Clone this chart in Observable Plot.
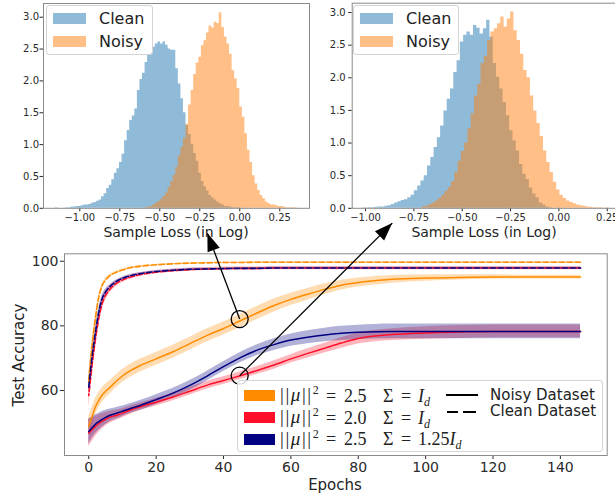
<!DOCTYPE html>
<html>
<head>
<meta charset="utf-8">
<script src="https://cdn.jsdelivr.net/npm/d3@7"></script>
<script src="https://cdn.jsdelivr.net/npm/@observablehq/plot@0.6"></script>
<style>
  body { margin: 0; background: #fff; }
  #root { position: relative; width: 615px; height: 496px; overflow: hidden; background: #fff; font-family: "DejaVu Sans", sans-serif; color: #222; }
  #root svg { position: absolute; z-index: 1; }
  .leg { position: absolute; z-index: 2; border: 1px solid #d4d4d4; border-radius: 3px; background: rgba(255,255,255,0.85); box-sizing: border-box; }
  .leg .patch { position: absolute; }
  .leg .t { position: absolute; white-space: nowrap; }
  .hl .t { font-size: 16px; line-height: 16px; }
  .math { position: absolute; font-family: "Liberation Serif", "DejaVu Serif", serif; font-size: 18px; line-height: 18px; white-space: nowrap; }
  .math.norm { letter-spacing: 1.6px; font-size: 19px; }
  .math sup { font-size: 12px; vertical-align: 7px; line-height: 0; letter-spacing: 0; }
  .math sub { font-size: 12px; vertical-align: -4px; line-height: 0; font-style: italic; }
  .axt { position: absolute; z-index: 2; white-space: nowrap; transform: translate(-50%, -50%); font-size: 14px; line-height: 14px; }
  .ds { font-size: 15px; line-height: 15px; }
</style>
</head>
<body>
<div id="root"></div>
<script>
// ---------- Histogram data (density per bin) ----------
const leftBinWidth = 0.016;
const leftCleanStart = -1.152;
const leftClean = [0.01,0,0,0,0.01,0.01,0.02,0.02,0.03,0.03,
  0.04,0.05,0.05,0.06,0.08,0.09,0.11,0.13,0.18,0.23,
  0.31,0.36,0.45,0.55,0.62,0.72,0.85,1.06,1.22,1.38,
  1.45,1.56,1.85,2.02,2.12,2.29,2.40,2.45,2.53,2.58,
  2.61,2.58,2.61,2.56,2.50,2.48,2.48,2.19,1.95,1.72,
  1.50,1.30,1.16,1.00,0.86,0.74,0.55,0.42,0.34,0.27,
  0.20,0.16,0.13,0.10,0.07,0.05,0.03,0.03,0.02,0.01,
  0.01,0.01];
const leftNoisyStart = -0.592;
const leftNoisy = [0.01,0.02,0.03,0.05,0.08,0.11,0.14,0.19,0.24,0.33,
  0.42,0.52,0.64,0.82,0.96,1.10,1.32,1.62,1.85,2.10,
  2.28,2.37,2.55,2.63,2.75,2.86,2.83,2.92,2.90,3.07,
  2.84,2.69,2.58,2.42,2.16,2.03,1.88,1.59,1.43,1.17,
  0.91,0.72,0.51,0.38,0.28,0.20,0.15,0.10,0.07,0.05,
  0.05,0.04,0.03,0.03,0.02,0.01,0.01,0.01,0.01,0.005];

const rightBinWidth = 0.017;
const rightCleanStart = -1.0195;
const rightClean = [0.005,0.005,0.01,0.01,0.015,0.02,0.02,0.03,0.04,0.06,
  0.08,0.10,0.12,0.13,0.16,0.20,0.27,0.34,0.42,0.50,
  0.65,0.78,0.93,1.08,1.26,1.49,1.67,1.83,2.08,2.26,
  2.55,2.65,2.70,2.65,2.80,2.76,2.67,2.75,2.88,2.62,
  2.22,2.01,1.83,1.62,1.42,1.19,1.03,0.88,0.67,0.52,
  0.44,0.31,0.22,0.16,0.08,0.05,0.02,0.01];
const rightNoisyStart = -0.7085;
const rightNoisy = [0.02,0.03,0.05,0.08,0.11,0.15,0.20,0.26,0.32,0.41,
  0.55,0.72,0.87,1.00,1.22,1.45,1.72,1.90,2.22,2.33,
  2.57,2.70,2.75,2.83,2.93,2.78,2.90,3.01,2.72,2.57,
  2.36,2.11,2.00,1.72,1.49,1.30,1.10,0.88,0.70,0.55,
  0.40,0.28,0.20,0.15,0.11,0.09,0.07,0.05,0.04,0.03,
  0.02,0.015,0.01,0.01,0.01,0.005,0.005];

const histXTicks = [-1, -0.75, -0.5, -0.25, 0, 0.25];
const histYTicks = [0, 0.5, 1, 1.5, 2, 2.5, 3];
const histLabels = ["Clean", "Noisy"];
const histXLabel = "Sample Loss (in Log)";

// ---------- Training curves ----------
const epochs = [0,1,2,3,4,5,6,8,10,12,15,20,25,30,35,40,45,50,55,60,65,70,75,80,90,100,110,120,130,140,146];

const noisyOrange = [49,52,55,57,58.6,59.8,60.7,62.7,64.5,65.9,67.6,69.8,72,74.5,77,79.2,81.6,84,86.3,88.2,89.8,91.3,92.6,93.4,94.4,94.8,95.0,95.1,95.1,95.1,95.1];
const noisyOrangeSd = [3,2.8,2.6,2.4,2.3,2.2,2.1,2,2,2,2,2,2,2,2,2,2,2,2,1.9,1.8,1.7,1.5,1.4,1.2,1,0.8,0.7,0.6,0.6,0.6];
const noisyRed = [46.8,47.9,48.9,49.8,50.5,51.1,51.6,52.3,53.0,53.8,54.9,56.4,58.0,59.8,61.6,63.1,64.6,66.2,67.9,69.8,71.5,73.1,74.7,76.1,77.3,77.8,78.1,78.3,78.3,78.3,78.3];
const noisyRedSd = [4.2,3.6,3.1,2.7,2.4,2.1,1.9,1.6,1.4,1.3,1.2,1.2,1.2,1.2,1.2,1.2,1.2,1.2,1.3,1.3,1.4,1.5,1.6,1.7,1.8,1.9,2,2,2,2,2];
const noisyNavy = [47.3,48.5,49.6,50.4,51.1,51.7,52.2,52.9,53.6,54.3,55.3,57.2,59.2,61.6,64.4,67.4,70.2,72.5,74.2,75.6,76.5,77.2,77.7,78.0,78.3,78.3,78.3,78.3,78.3,78.3,78.3];
const noisyNavySd = [3.9,3.3,2.9,2.6,2.4,2.2,2,1.8,1.6,1.5,1.5,1.5,1.5,1.5,1.5,1.5,1.6,1.7,1.8,1.9,2,2.1,2.2,2.2,2.3,2.3,2.3,2.3,2.3,2.3,2.3];

const cleanOrange = [63,74,82.5,89,92.5,94.2,95.3,96.5,97.3,97.9,98.4,98.9,99.2,99.4,99.5,99.6,99.6,99.7,99.7,99.7,99.7,99.7,99.7,99.7,99.7,99.7,99.7,99.7,99.7,99.7,99.7];
const cleanOrangeSd = [2.5,2,1.5,1.1,0.8,0.6,0.5,0.4,0.3,0.3,0.3,0.2,0.2,0.2,0.2,0.2,0.2,0.2,0.2,0.2,0.2,0.2,0.2,0.2,0.2,0.2,0.2,0.2,0.2,0.2,0.2];
const cleanRed = [58.5,68,76,82.5,87,89.5,91,93,94.2,95,95.8,96.6,97.1,97.4,97.6,97.7,97.8,97.8,97.9,97.9,97.9,97.9,97.9,97.9,97.9,97.9,97.9,97.9,97.9,97.9,97.9];
const cleanRedSd = [4,3.5,3,2.5,2,1.6,1.3,1,0.8,0.7,0.6,0.5,0.5,0.5,0.5,0.5,0.5,0.5,0.5,0.5,0.5,0.5,0.5,0.5,0.5,0.5,0.5,0.5,0.5,0.5,0.5];
const cleanNavy = [61,70.5,78,84.3,88.5,90.5,91.8,93.6,94.7,95.4,96.1,96.8,97.2,97.5,97.6,97.7,97.8,97.8,97.9,97.9,97.9,97.9,97.9,97.9,97.9,97.9,97.9,97.9,97.9,97.9,97.9];
const cleanNavySd = [3,2.5,2,1.5,1.1,0.9,0.7,0.5,0.4,0.4,0.3,0.3,0.3,0.3,0.3,0.3,0.3,0.3,0.3,0.3,0.3,0.3,0.3,0.3,0.3,0.3,0.3,0.3,0.3,0.3,0.3];

const xTicks = [0, 20, 40, 60, 80, 100, 120, 140];
const yTicks = [60, 80, 100];
const xLabel = "Epochs";
const yLabel = "Test Accuracy";
const styleNames = ["Noisy Dataset", "Clean Dataset"];

// annotation arrows: circle position (epoch, accuracy) -> arrow tip
const annoFromX = [44.8, 44.8];
const annoFromY = [82.1, 64.6];
const annoToX = [35.2, 90.1];
const annoToY = [108.7, 111.8];

// ---------- colours ----------
const cBlue = "#1f77b4", cOrange = "#ff7f0e";
const cOr = "#ff8c00", cRed = "#ff1028", cNavy = "#000080";

// ---------- build ----------
const root = document.getElementById("root");

function histSteps(start, w, vals) {
  const pts = vals.map((v, i) => ({x: start + i * w, y: v}));
  pts.push({x: start + vals.length * w, y: vals[vals.length - 1]});
  return pts;
}

function histPlot(opts) {
  return Plot.plot({
    width: opts.width, height: 245,
    marginLeft: opts.ml, marginRight: opts.mr, marginTop: opts.mt, marginBottom: 245 - 207.8,
    x: {domain: opts.xd, ticks: histXTicks, tickFormat: d3.format(".2f"), label: null, tickSize: 3.5, tickPadding: 2},
    y: {domain: opts.yd, ticks: histYTicks, tickFormat: d3.format(".1f"), label: null, tickSize: 3.5, tickPadding: opts.yp},
    style: {background: "transparent", fontFamily: "DejaVu Sans", fontSize: "10px", color: "#2a2a2a", overflow: "visible"},
    marks: [
      Plot.areaY(histSteps(opts.cs, opts.w, opts.clean), {x: "x", y: "y", curve: "step-after", fill: cBlue, fillOpacity: 0.5}),
      Plot.areaY(histSteps(opts.ns, opts.w, opts.noisy), {x: "x", y: "y", curve: "step-after", fill: cOrange, fillOpacity: 0.5}),
      Plot.frame({stroke: "#8a8a8a"})
    ]
  });
}

const hl = histPlot({width: 310, ml: 43, mr: 1, mt: 3, xd: [-1.227, 0.436], yd: [0, 3.215], yp: 1,
  cs: leftCleanStart, ns: leftNoisyStart, w: leftBinWidth, clean: leftClean, noisy: leftNoisy});
hl.style.left = "0px"; hl.style.top = "0px";
root.appendChild(hl);

const hr = histPlot({width: 311, ml: 46.7, mr: 0, mt: 2.7, xd: [-1.069, 0.298], yd: [0, 3.143], yp: 3,
  cs: rightCleanStart, ns: rightNoisyStart, w: rightBinWidth, clean: rightClean, noisy: rightNoisy});
hr.style.left = "305px"; hr.style.top = "0px";
root.appendChild(hr);

// line/band series
const series = [
  {mean: noisyOrange, sd: noisyOrangeSd, color: cOr, dash: null},
  {mean: noisyRed, sd: noisyRedSd, color: cRed, dash: null},
  {mean: noisyNavy, sd: noisyNavySd, color: cNavy, dash: null},
  {mean: cleanOrange, sd: cleanOrangeSd, color: cOr, dash: "5.5,2.5", off: 0},
  {mean: cleanRed, sd: cleanRedSd, color: cRed, dash: "5.5,2.5", off: 4},
  {mean: cleanNavy, sd: cleanNavySd, color: cNavy, dash: "5.5,2.5", off: 0}
];
const rows = s => epochs.map((e, i) => ({epoch: e, m: s.mean[i], lo: s.mean[i] - s.sd[i], hi: s.mean[i] + s.sd[i]}));
const annos = annoFromX.map((x, i) => ({x1: x, y1: annoFromY[i], x2: annoToX[i], y2: annoToY[i]}));

function headMarker(color, context) {
  const m = d3.create("svg:marker")
    .attr("viewBox", "-18 -6.5 18 13")
    .attr("markerWidth", 18).attr("markerHeight", 13)
    .attr("markerUnits", "userSpaceOnUse")
    .attr("orient", "auto").attr("refX", 0).attr("refY", 0)
    .attr("overflow", "visible");
  m.append("path").attr("d", "M-18,-6.5L0,0L-18,6.5Z").attr("fill", color).attr("stroke", "none");
  return m.node();
}

function bottomPlot(marker) {
  return Plot.plot({
    width: 615, height: 281,
    marginLeft: 64, marginRight: 8.3, marginTop: 38.3, marginBottom: 41,
    x: {domain: [-7.2, 153.9], ticks: xTicks, label: null, tickSize: 4, tickPadding: 3},
    y: {domain: [39.9, 102.3], ticks: yTicks, label: null, tickSize: 4, tickPadding: 2},
    style: {background: "transparent", fontFamily: "DejaVu Sans", fontSize: "14px", color: "#2a2a2a", overflow: "visible"},
    marks: [
      ...series.slice(0, 3).map(s => Plot.areaY(rows(s), {x: "epoch", y1: "lo", y2: "hi", fill: s.color, fillOpacity: 0.3, curve: "monotone-x"})),
      ...series.slice(0, 3).map(s => Plot.lineY(rows(s), {x: "epoch", y: "m", stroke: s.color, strokeWidth: 1.5, curve: "monotone-x"})),
      ...series.slice(3).map(s => Plot.areaY(rows(s), {x: "epoch", y1: "lo", y2: "hi", fill: s.color, fillOpacity: 0.25, curve: "monotone-x"})),
      ...series.slice(3).map(s => Plot.lineY(rows(s), {x: "epoch", y: "m", stroke: s.color, strokeWidth: 1.6, strokeDasharray: s.dash, strokeDashoffset: s.off, curve: "monotone-x"})),
      Plot.frame({stroke: "#8a8a8a"}),
      Plot.dot(annos, {x: "x1", y: "y1", r: 8.5, stroke: "black", strokeWidth: 1.3, fill: "none"}),
      Plot.link(annos, {x1: "x1", y1: "y1", x2: "x2", y2: "y2", stroke: "black", strokeWidth: 1.3, markerEnd: marker})
    ]
  });
}
let bp;
try { bp = bottomPlot(headMarker); } catch (e) { bp = bottomPlot("arrow"); }
bp.style.left = "0px"; bp.style.top = "215px";
root.appendChild(bp);

// ---------- legends & axis titles (HTML text) ----------
function el(tag, cls, css, html) {
  const d = document.createElement(tag);
  if (cls) d.className = cls;
  if (css) d.style.cssText = css;
  if (html != null) d.innerHTML = html;
  return d;
}
function histLegend(left, width) {
  const box = el("div", "leg hl", `left:${left}px;top:5px;width:${width}px;height:50px;`);
  box.appendChild(el("div", "patch", `left:6px;top:7px;width:33px;height:11px;background:#8fbbd9;`));
  box.appendChild(el("div", "patch", `left:6px;top:30px;width:33px;height:11px;background:#ffbf86;`));
  box.appendChild(el("div", "t", `left:52px;top:4.5px;`, histLabels[0]));
  box.appendChild(el("div", "t", `left:52px;top:27.9px;`, histLabels[1]));
  root.appendChild(box);
}
histLegend(46, 107);
histLegend(353, 106);

root.appendChild(el("div", "axt", "left:176px;top:231.5px;", histXLabel));
root.appendChild(el("div", "axt", "left:484px;top:231.5px;", histXLabel));
root.appendChild(el("div", "axt", "left:335px;top:484.5px;font-size:15px;line-height:15px;", xLabel));
root.appendChild(el("div", "axt", "left:19px;top:355px;font-size:15px;line-height:15px;transform:translate(-50%,-50%) rotate(-90deg);", yLabel));

// bottom legend
const lb = el("div", "leg", "left:237px;top:380px;width:366px;height:72px;");
const legColors = [cOr, cRed, cNavy];
const legMu = ["2.5", "2.0", "2.5"];
const legSigma = ["<i>I</i><sub>d</sub>", "<i>I</i><sub>d</sub>", "1.25<i>I</i><sub>d</sub>"];
const rowC = [14.5, 36.7, 58.3];
legColors.forEach((c, i) => {
  lb.appendChild(el("div", "patch", `left:6px;top:${rowC[i] - 5.5}px;width:31px;height:11px;background:${c};`));
  const t = rowC[i] - 9;
  lb.appendChild(el("div", "math norm", `left:42px;top:${t - 0.5}px;`, "||<i>μ</i>||<sup>2</sup>"));
  lb.appendChild(el("div", "math", `left:88px;top:${t}px;`, "="));
  lb.appendChild(el("div", "math", `left:106px;top:${t}px;`, legMu[i]));
  lb.appendChild(el("div", "math", `left:145px;top:${t}px;`, "Σ"));
  lb.appendChild(el("div", "math", `left:163px;top:${t}px;`, "="));
  lb.appendChild(el("div", "math", `left:180px;top:${t}px;`, legSigma[i]));
});
lb.appendChild(el("div", "patch", "left:208px;top:13px;width:32px;height:2.2px;background:#000;"));
lb.appendChild(el("div", "patch", "left:209px;top:30px;width:11px;height:2.2px;background:#000;"));
lb.appendChild(el("div", "patch", "left:225px;top:30px;width:13px;height:2.2px;background:#000;"));
lb.appendChild(el("div", "t ds", "left:252px;top:6.5px;", styleNames[0]));
lb.appendChild(el("div", "t ds", "left:252px;top:23.2px;", styleNames[1]));
root.appendChild(lb);
</script>
</body>
</html>
